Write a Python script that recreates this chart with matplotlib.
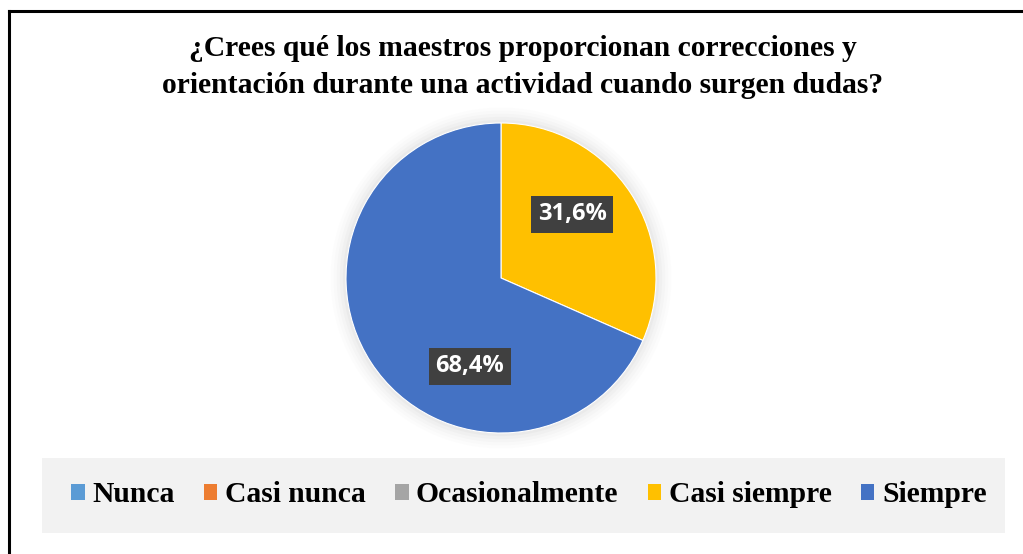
import matplotlib.pyplot as plt
import numpy as np
from matplotlib.patches import Patch, Rectangle, Circle
from matplotlib.lines import Line2D

# data
categories = ['Nunca', 'Casi nunca', 'Ocasionalmente', 'Casi siempre', 'Siempre']
values = [0, 0, 0, 31.6, 68.4]
labels = ['', '', '', '31,6%', '68,4%']
colors = ['#5B9BD5', '#ED7D31', '#A5A5A5', '#FFC000', '#4472C4']
# label placement in pie radius units (Excel "best fit")
label_pos = [None, None, None, (0.46, 0.41), (-0.2, -0.57)]

title = '¿Crees qué los maestros proporcionan correcciones y\norientación durante una actividad cuando surgen dudas?'

fig = plt.figure(figsize=(10.23, 5.54), dpi=100)
W, H = 1023, 554

# outer border (left + top)
fig.add_artist(Line2D([9 / W, 9 / W], [0, 1 - 11 / H], color='black', lw=2.2, transform=fig.transFigure))
fig.add_artist(Line2D([9 / W, 1], [1 - 11 / H, 1 - 11 / H], color='black', lw=2.2, transform=fig.transFigure))

fig.text(523 / W, 1 - 67 / H, title, ha='center', va='center', fontsize=21.3,
         fontweight='bold', family='Liberation Serif', linespacing=1.5)

# pie
cx, cy, r = 501, 278, 155
ax = fig.add_axes([(cx - r) / W, (H - cy - r) / H, 2 * r / W, 2 * r / H])
# soft shadow
for k, a in zip(np.linspace(1.1, 1.0, 6), [0.02, 0.025, 0.03, 0.04, 0.05, 0.06]):
    ax.add_patch(Circle((0, 0), k, color='#8a8a8a', alpha=a, lw=0, zorder=0, clip_on=False))
wedges, _ = ax.pie(values, colors=colors, startangle=90, counterclock=False, radius=1,
                   wedgeprops=dict(linewidth=0.8, edgecolor='white'))
for w in wedges:
    w.set_zorder(2)
for lab, pos in zip(labels, label_pos):
    if pos is None:
        continue
    ax.text(pos[0], pos[1], lab, ha='center', va='center', color='white', fontsize=17,
            fontweight='bold', family='Open Sans', zorder=5,
            bbox=dict(boxstyle='square,pad=0.28', fc='#404040', ec='none'))
ax.set_xlim(-1, 1)
ax.set_ylim(-1, 1)
ax.set_aspect('equal')
ax.axis('off')

# legend box
fig.add_artist(Rectangle((42 / W, (H - 533) / H), 963 / W, 75 / H, transform=fig.transFigure,
                         facecolor='#F2F2F2', edgecolor='none', zorder=0))
handles = [Patch(facecolor=c, edgecolor='none') for c in colors]
leg = fig.legend(handles, categories, loc='center', bbox_to_anchor=(529 / W, 1 - 495 / H), ncol=5,
                 frameon=False, handlelength=0.45, handleheight=0.45, handletextpad=0.25,
                 columnspacing=1.0, prop=dict(family='Liberation Serif', weight='bold', size=21.3))

fig.savefig('out.png', dpi=100)
